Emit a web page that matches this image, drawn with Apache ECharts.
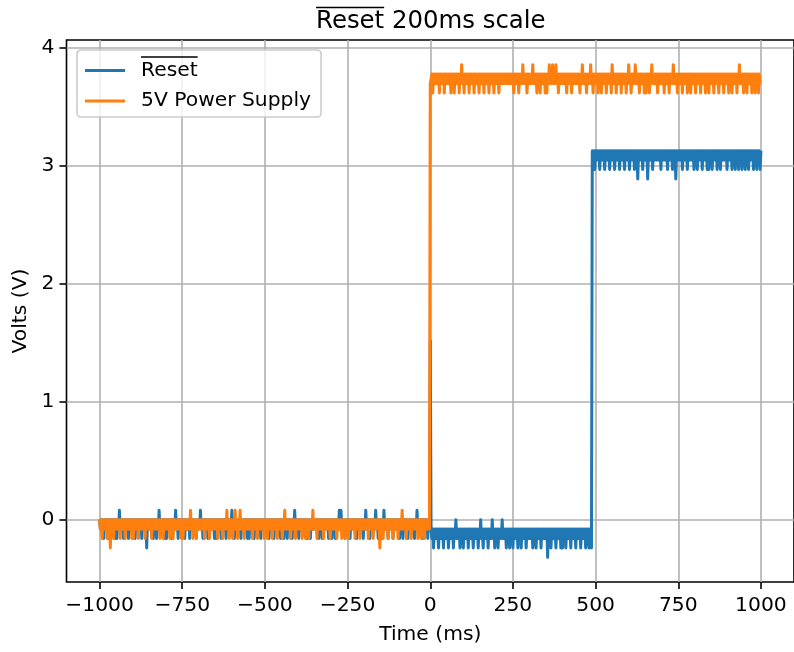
<!DOCTYPE html>
<html>
<head>
<meta charset="utf-8">
<script src="https://cdn.jsdelivr.net/npm/echarts@6/dist/echarts.min.js"></script>
<style>
html,body{margin:0;padding:0;background:#fff;}
#chart{width:794px;height:652px;}
</style>
</head>
<body>
<div id="chart"></div>
<script>
// ---- sampling grid (oscilloscope samples every 2.5 ms from -1000 ms) ----
const sampleStartMs = -1000;
const sampleStepMs = 2.5;

// ---- tick values ----
const xTickValues = [-1000, -750, -500, -250, 0, 250, 500, 750, 1000];
const yTickValues = [0, 1, 2, 3, 4];

// ---- series names ----
const seriesNames = ['Reset', '5V Power Supply'];

// ---- Reset (blue): t = -1000 .. -2.5 ms ----
const resetLowVolts = [
 0,-.08,0,-.08,0,-.16,0,-.08,0,-.08,0,-.16,0,-.08,0,-.08,0,-.08,0,-.16,
 0,-.16,0,-.08,.08,-.08,0,-.08,0,-.16,0,-.08,0,-.08,0,-.16,0,-.08,0,-.08,
 0,-.08,0,-.16,0,-.08,0,-.08,0,-.08,0,-.16,0,-.08,0,-.08,0,-.24,0,-.08,
 0,-.08,0,-.08,0,-.16,0,-.08,0,-.16,0,-.08,.08,-.08,0,-.08,0,-.08,0,-.16,
 0,-.16,0,-.08,0,-.08,0,-.16,0,-.08,0,-.08,.08,-.08,0,-.16,0,-.08,0,-.08,
 0,-.08,0,-.16,0,-.08,0,-.08,0,-.16,0,-.08,0,-.08,0,-.08,0,-.16,0,-.08,
 0,-.08,.08,-.08,0,-.16,0,-.08,0,-.08,0,-.16,0,-.08,0,-.08,0,-.08,0,-.16,
 0,-.16,0,-.08,0,-.08,0,-.16,0,-.08,0,-.08,0,-.16,0,-.08,0,-.08,0,-.08,
 .08,-.08,0,-.16,0,-.08,0,-.08,0,-.08,0,-.16,0,-.08,0,-.08,0,-.08,0,-.16,
 0,-.16,0,-.08,0,-.08,0,-.16,0,-.08,0,-.08,0,-.08,0,-.16,0,-.08,0,-.08,
 0,-.08,0,-.08,0,-.16,0,-.08,0,-.08,0,-.16,0,-.08,0,-.08,0,-.08,0,-.16,
 0,-.08,0,-.16,0,-.08,0,-.16,0,-.08,0,-.08,0,-.16,0,-.08,.08,-.08,0,-.08,
 0,-.16,0,-.08,0,-.08,0,-.08,0,-.08,0,-.16,0,-.08,0,-.16,0,-.08,0,-.08,
 0,-.08,0,-.08,0,-.16,0,-.08,0,-.16,0,-.08,0,-.08,0,-.08,0,-.16,0,-.08,
 0,-.16,0,-.08,0,-.16,0,-.08,0,-.08,.08,-.08,.08,-.08,0,-.08,0,-.16,0,-.08,
 0,-.08,0,-.16,0,-.08,0,-.08,0,-.08,0,-.16,0,-.08,0,-.08,0,-.08,0,-.16,
 0,-.08,.08,-.08,0,-.08,0,-.16,0,-.08,0,-.08,0,-.08,.08,-.08,0,-.16,0,-.08,
 0,-.16,0,-.08,.08,-.08,0,-.08,0,-.16,0,-.08,0,-.08,0,-.16,0,-.08,0,-.08,
 0,-.08,0,-.16,0,-.08,0,-.16,0,-.08,0,-.08,0,-.16,0,-.08,0,-.08,0,-.08,
 0,-.16,0,-.08,.08,-.08,0,-.08,0,-.08,0,-.16,0,-.08,0,-.08,0,-.16,0,-.08
];
// ---- Reset: t = 0 .. 487.5 ms (glitch at 0, then low) ----
const resetTransitionVolts = [
 1.52,-.08,-.16,-.08,-.24,-.08,-.16,-.08,-.16,-.08,-.24,-.08,-.16,-.08,-.16,-.08,-.24,-.08,-.16,-.08,
 -.16,-.08,-.24,-.08,-.16,-.08,-.16,-.08,-.24,-.08,-.16,0,-.16,-.08,-.16,-.08,-.24,-.08,-.16,-.08,
 -.24,-.08,-.16,-.08,-.16,-.08,-.24,-.08,-.16,-.08,-.16,-.08,-.24,-.08,-.16,-.08,-.16,-.08,-.24,-.08,
 -.16,0,-.16,-.08,-.24,-.08,-.16,-.08,-.16,-.08,-.24,-.08,-.16,-.08,-.16,0,-.16,-.08,-.24,-.08,
 -.16,-.08,-.24,-.08,-.16,-.08,-.16,0,-.16,-.08,-.16,-.08,-.24,-.08,-.16,-.08,-.24,-.08,-.16,-.08,
 -.24,-.08,-.16,-.08,-.16,-.08,-.24,-.08,-.16,-.08,-.24,-.08,-.16,-.08,-.16,-.08,-.24,-.08,-.16,-.08,
 -.16,-.08,-.16,-.08,-.24,-.08,-.16,-.08,-.24,-.08,-.16,-.08,-.16,-.08,-.24,-.08,-.16,-.08,-.16,-.08,
 -.16,-.08,-.32,-.08,-.16,-.08,-.24,-.08,-.16,-.08,-.16,-.08,-.24,-.08,-.16,-.08,-.16,-.08,-.24,-.08,
 -.24,-.08,-.16,-.08,-.24,-.08,-.16,-.08,-.16,-.08,-.24,-.08,-.16,-.08,-.16,-.08,-.24,-.08,-.16,-.08,
 -.16,-.08,-.24,-.08,-.16,-.08,-.16,-.08,-.24,-.08,-.16,-.08,-.24,-.08,-.16,-.24
];
// ---- Reset: t = 490 .. 1000 ms (high) ----
const resetHighVolts = [
 3.13,3.05,3.13,2.97,3.13,3.05,3.13,3.05,3.13,2.97,3.13,3.05,3.13,3.05,3.13,2.97,3.13,3.05,3.13,3.05,
 3.13,2.97,3.13,3.05,3.13,3.05,3.13,2.97,3.13,3.05,3.13,3.05,3.13,2.97,3.13,3.05,3.13,3.05,3.13,2.97,
 3.13,3.05,3.13,3.05,3.13,2.97,3.13,3.05,3.13,3.05,3.13,2.97,3.13,3.05,3.13,2.89,3.13,3.05,3.13,3.05,
 3.13,2.97,3.13,3.05,3.13,3.05,3.13,2.89,3.13,3.05,3.13,3.05,3.13,2.97,3.13,3.05,3.13,3.05,3.13,3.05,
 3.13,3.05,3.13,2.97,3.13,3.05,3.13,3.05,3.13,3.05,3.13,2.97,3.13,3.05,3.13,3.05,3.13,2.97,3.13,3.05,
 3.13,2.89,3.13,3.05,3.13,3.05,3.13,3.05,3.13,2.97,3.13,3.05,3.13,3.05,3.13,2.97,3.13,3.05,3.13,3.05,
 3.13,3.05,3.13,2.97,3.13,3.05,3.13,2.97,3.13,3.05,3.13,3.05,3.13,2.97,3.13,3.05,3.13,3.05,3.13,2.97,
 3.13,2.97,3.13,3.05,3.13,2.97,3.13,3.05,3.13,3.05,3.13,2.97,3.13,3.05,3.13,2.97,3.13,3.05,3.13,3.05,
 3.13,3.05,3.13,2.97,3.13,3.05,3.13,3.05,3.13,2.97,3.13,3.05,3.13,2.97,3.13,3.05,3.13,2.97,3.13,3.05,
 3.13,2.97,3.13,3.05,3.13,2.97,3.13,3.05,3.13,2.97,3.13,3.05,3.13,3.05,3.13,2.97,3.13,3.05,3.13,2.97,
 3.13,3.05,3.13,2.97,3.13
];

// ---- 5V Power Supply (orange): t = -1000 .. -2.5 ms ----
const supplyLowVolts = [
 0,-.08,0,-.16,0,-.08,0,-.08,0,-.16,0,-.08,0,-.24,0,-.08,0,-.16,0,-.08,
 0,-.08,0,-.08,0,-.16,0,-.08,0,-.08,0,-.16,0,-.08,0,-.08,0,-.08,0,-.16,
 0,-.16,0,-.08,0,-.08,0,-.16,0,-.08,0,-.08,0,-.08,0,-.16,0,-.08,0,-.08,
 0,-.08,0,-.16,0,-.08,0,-.08,0,-.08,0,-.08,0,-.16,0,-.08,0,-.16,0,-.08,
 0,-.08,0,-.08,0,-.16,0,-.08,0,-.16,0,-.08,0,-.08,0,-.08,0,-.08,0,-.16,
 0,-.16,0,-.08,0,-.08,0,-.08,0,-.08,.08,-.08,0,-.16,0,-.08,0,-.16,0,-.08,
 0,-.08,0,-.08,0,-.08,0,-.16,0,-.08,0,-.08,0,-.16,0,-.08,0,-.08,0,-.08,
 0,-.08,0,-.16,0,-.08,0,-.08,0,-.16,0,-.08,0,-.08,.08,-.08,0,-.16,0,-.08,
 0,-.16,0,-.08,.08,-.08,0,-.16,0,-.08,.08,-.08,0,-.08,0,-.16,0,-.08,0,-.08,
 0,-.08,0,-.08,0,-.16,0,-.08,0,-.08,0,-.16,0,-.08,0,-.08,0,-.08,0,-.16,
 0,-.08,0,-.16,0,-.08,0,-.08,0,-.16,0,-.08,0,-.08,0,-.16,0,-.08,0,-.08,
 0,-.16,0,-.08,.08,-.08,0,-.08,0,-.08,0,-.16,0,-.08,0,-.08,0,-.16,0,-.08,
 0,-.08,0,-.08,0,-.16,0,-.08,0,-.16,0,-.08,0,-.16,0,-.08,0,-.08,.08,-.08,
 0,-.08,0,-.16,0,-.08,0,-.08,0,-.08,0,-.16,0,-.08,0,-.08,0,-.08,0,-.16,
 0,-.08,0,-.08,0,-.08,0,-.16,0,-.08,0,-.08,0,-.16,0,-.08,0,-.16,0,-.08,
 0,-.16,0,-.08,0,-.08,0,-.08,0,-.16,0,-.08,0,-.08,0,-.16,0,-.08,0,-.08,
 0,-.08,0,-.08,0,-.16,0,-.08,0,-.08,0,-.16,0,-.08,0,-.08,0,-.08,0,-.24,
 0,-.08,0,-.16,0,-.08,0,-.08,0,-.16,0,-.08,0,-.08,0,-.16,0,-.08,0,-.08,
 0,-.16,0,-.08,0,-.08,.08,-.08,0,-.08,0,-.16,0,-.08,0,-.08,0,-.16,0,-.08,
 0,-.08,0,-.08,0,-.16,0,-.08,0,-.16,0,-.08,0,-.16,0,-.08,0,-.08,0,-.08
];
// ---- 5V Power Supply: t = 0 .. 1000 ms ----
const supplyHighVolts = [
 3.70,3.70,3.78,3.62,3.78,3.70,3.78,3.70,3.78,3.70,3.78,3.62,3.78,3.70,3.78,3.70,3.78,3.62,3.78,3.70,
 3.78,3.70,3.78,3.70,3.78,3.62,3.78,3.70,3.78,3.62,3.78,3.70,3.78,3.70,3.78,3.62,3.78,3.70,3.86,3.70,
 3.78,3.62,3.78,3.70,3.78,3.70,3.78,3.62,3.78,3.70,3.78,3.70,3.78,3.62,3.78,3.70,3.78,3.70,3.78,3.62,
 3.78,3.70,3.78,3.70,3.78,3.62,3.78,3.70,3.78,3.70,3.78,3.62,3.78,3.70,3.78,3.70,3.78,3.62,3.78,3.70,
 3.78,3.70,3.78,3.62,3.78,3.70,3.78,3.70,3.78,3.70,3.78,3.70,3.78,3.70,3.78,3.70,3.78,3.70,3.78,3.70,
 3.78,3.62,3.78,3.70,3.78,3.70,3.78,3.62,3.78,3.70,3.78,3.70,3.86,3.70,3.78,3.70,3.78,3.62,3.78,3.70,
 3.78,3.70,3.78,3.70,3.86,3.70,3.78,3.70,3.78,3.62,3.78,3.70,3.78,3.62,3.78,3.70,3.78,3.70,3.78,3.62,
 3.78,3.62,3.78,3.70,3.86,3.70,3.78,3.70,3.86,3.70,3.78,3.70,3.86,3.70,3.78,3.62,3.78,3.70,3.78,3.70,
 3.78,3.70,3.78,3.70,3.78,3.62,3.78,3.70,3.78,3.70,3.78,3.62,3.78,3.70,3.78,3.70,3.78,3.70,3.78,3.70,
 3.78,3.62,3.78,3.70,3.86,3.70,3.78,3.70,3.78,3.62,3.78,3.70,3.78,3.70,3.86,3.70,3.78,3.62,3.78,3.70,
 3.78,3.70,3.78,3.62,3.78,3.70,3.78,3.62,3.78,3.70,3.78,3.70,3.78,3.62,3.78,3.70,3.78,3.70,3.78,3.62,
 3.86,3.70,3.78,3.70,3.78,3.62,3.78,3.70,3.78,3.70,3.78,3.62,3.78,3.70,3.78,3.70,3.78,3.62,3.78,3.70,
 3.86,3.70,3.78,3.62,3.78,3.70,3.78,3.70,3.86,3.70,3.78,3.70,3.78,3.62,3.78,3.70,3.78,3.70,3.78,3.62,
 3.78,3.62,3.78,3.70,3.78,3.62,3.78,3.70,3.86,3.70,3.78,3.70,3.78,3.70,3.78,3.62,3.78,3.70,3.78,3.70,
 3.78,3.70,3.78,3.62,3.78,3.70,3.78,3.70,3.78,3.62,3.78,3.70,3.78,3.70,3.86,3.70,3.78,3.70,3.78,3.62,
 3.78,3.70,3.78,3.70,3.78,3.62,3.78,3.70,3.78,3.70,3.78,3.62,3.78,3.70,3.78,3.62,3.78,3.70,3.78,3.70,
 3.78,3.62,3.78,3.70,3.78,3.70,3.78,3.62,3.78,3.70,3.78,3.70,3.78,3.62,3.78,3.70,3.78,3.62,3.78,3.70,
 3.78,3.70,3.78,3.62,3.78,3.70,3.78,3.70,3.78,3.62,3.78,3.70,3.78,3.70,3.78,3.62,3.78,3.70,3.78,3.70,
 3.78,3.62,3.78,3.70,3.78,3.62,3.78,3.70,3.78,3.70,3.78,3.62,3.78,3.70,3.86,3.70,3.78,3.70,3.78,3.62,
 3.78,3.70,3.78,3.62,3.78,3.70,3.78,3.70,3.78,3.62,3.78,3.70,3.78,3.62,3.78,3.70,3.78,3.62,3.78,3.70,
 3.70
];

// ---- assemble ----
const resetVolts = [].concat(resetLowVolts, resetTransitionVolts, resetHighVolts);
const supplyVolts = [].concat(supplyLowVolts, supplyHighVolts);
const toPairs = arr => arr.map((v, i) => [sampleStartMs + i * sampleStepMs, v]);

const FONT = 'DejaVu Sans';
const measureCtx = document.createElement('canvas').getContext('2d');
function textWidth(str, size) {
  measureCtx.font = size + 'px "' + FONT + '"';
  return measureCtx.measureText(str).width;
}

const gridLeft = 66.5, gridTop = 40, gridWidth = 728.6, gridHeight = 542;
const plotCenterX = gridLeft + gridWidth / 2;
const titleSize = 24.4;
const titleFull = 'Reset 200ms scale';
const wTitleReset = textWidth('Reset', titleSize);
const wTitleRest = textWidth(' 200ms scale', titleSize);
const wTitleAll = textWidth(titleFull, titleSize);
const baseSize = 20.3;
const wLegendReset = textWidth('Reset', baseSize);

const chart = echarts.init(document.getElementById('chart'), null, {renderer: 'canvas'});
chart.setOption({
  animation: false,
  backgroundColor: '#fff',
  textStyle: {fontFamily: FONT},
  title: {
    left: plotCenterX - wTitleAll / 2,
    top: 6,
    padding: 0,
    text: '{ov|}{sp|}\n{t|' + titleFull + '}',
    textStyle: {
      fontWeight: 'normal',
      rich: {
        ov: {width: wTitleReset, height: 1.6, backgroundColor: '#000', lineHeight: 3},
        sp: {width: wTitleRest, height: 1.6, lineHeight: 3},
        t: {fontSize: titleSize, lineHeight: 26, color: '#000', fontFamily: FONT, fontWeight: 'normal'}
      }
    }
  },
  legend: {
    data: seriesNames,
    orient: 'vertical',
    left: 77,
    top: 50,
    padding: [1, 10, 6, 8],
    itemGap: 1,
    itemWidth: 40,
    itemHeight: 3,
    icon: 'rect',
    backgroundColor: 'rgba(255,255,255,0.8)',
    borderColor: '#cccccc',
    borderWidth: 1.6,
    borderRadius: 4,
    formatter: name => name === 'Reset' ? '{ov|}\n{t|Reset}\n{pad|}' : '{t|' + name + '}',
    textStyle: {
      padding: [0, 0, 0, 11],
      rich: {
        ov: {width: wLegendReset, height: 1.6, backgroundColor: '#000', lineHeight: 4},
        pad: {height: 4, lineHeight: 4},
        t: {fontSize: baseSize, lineHeight: 23, color: '#000', fontFamily: FONT}
      }
    }
  },
  grid: {
    left: gridLeft, top: gridTop, width: gridWidth, height: gridHeight,
    show: true, borderColor: '#000', borderWidth: 1.6, backgroundColor: 'transparent'
  },
  xAxis: {
    type: 'value',
    min: -1100, max: 1100,
    name: 'Time (ms)', nameLocation: 'middle', nameGap: 43,
    nameTextStyle: {fontSize: baseSize, color: '#000', fontFamily: FONT},
    axisLine: {show: false, onZero: false},
    axisTick: {show: true, customValues: xTickValues, length: 7, lineStyle: {color: '#000', width: 1.6}},
    axisLabel: {customValues: xTickValues, fontSize: baseSize, color: '#000', margin: 14,
      formatter: v => v < 0 ? '\u2212' + (-v) : String(v)},
    splitLine: {show: true, lineStyle: {color: '#b0b0b0', width: 1.6}}
  },
  yAxis: {
    type: 'value',
    min: -0.529, max: 4.069,
    name: 'Volts (V)', nameLocation: 'middle', nameGap: 31, nameRotate: 90,
    nameTextStyle: {fontSize: baseSize, color: '#000', fontFamily: FONT},
    axisLine: {show: false, onZero: false},
    axisTick: {show: true, customValues: yTickValues, length: 7, lineStyle: {color: '#000', width: 1.6}},
    axisLabel: {customValues: yTickValues, fontSize: baseSize, color: '#000', margin: 12},
    splitLine: {show: true, lineStyle: {color: '#b0b0b0', width: 1.6}}
  },
  series: [
    {
      name: seriesNames[0], type: 'line', data: toPairs(resetVolts),
      showSymbol: false, symbol: 'none', color: '#1f77b4',
      lineStyle: {width: 3, color: '#1f77b4', join: 'round'}, z: 2
    },
    {
      name: seriesNames[1], type: 'line', data: toPairs(supplyVolts),
      showSymbol: false, symbol: 'none', color: '#ff7f0e',
      lineStyle: {width: 3, color: '#ff7f0e', join: 'round'}, z: 3
    }
  ]
});
</script>
</body>
</html>
